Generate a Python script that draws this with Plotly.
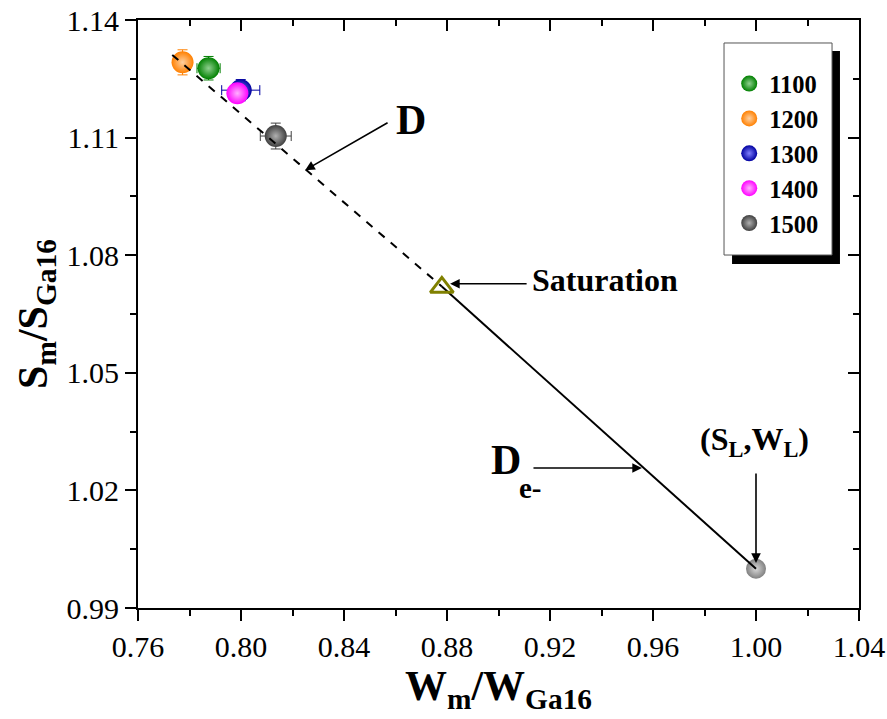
import plotly.graph_objects as go

# ---- data ----
series_names = ["1100", "1200", "1300", "1400", "1500"]
w_vals = [0.7874, 0.7773, 0.7999, 0.7986, 0.8135]
s_vals = [1.1277, 1.1292, 1.1221, 1.1213, 1.1104]
w_err = [0.0045, 0.0020, 0.0074, 0.0020, 0.0060]
s_err = [0.0030, 0.0032, 0.0027, 0.0020, 0.0033]
colors = ["#008000", "#ff8000", "#0000a0", "#ff00ff", "#404040"]
highlights = ["#8fd08f", "#ffd0a0", "#8080ff", "#ffb0ff", "#b0b0b0"]

# D line (dashed) and D_e- line (solid)
d_line_w = [0.7733, 0.878]
d_line_s = [1.1311, 1.072]
de_line_w = [0.878, 1.000]
de_line_s = [1.072, 1.000]

sat_w = [0.878]
sat_s = [1.0718]
sl_w = [1.000]
sl_s = [1.000]

x_range = [0.76, 1.04]
y_range = [0.99, 1.14]
x_ticks = [0.76, 0.80, 0.84, 0.88, 0.92, 0.96, 1.00, 1.04]
x_tick_labels = ["0.76", "0.80", "0.84", "0.88", "0.92", "0.96", "1.00", "1.04"]
y_ticks = [0.99, 1.02, 1.05, 1.08, 1.11, 1.14]
y_tick_labels = ["0.99", "1.02", "1.05", "1.08", "1.11", "1.14"]

FONT = "Liberation Serif"

fig = go.Figure()

for name, w, s, we, se, c, h in zip(series_names, w_vals, s_vals, w_err, s_err, colors, highlights):
    fig.add_trace(go.Scatter(
        x=[w], y=[s], mode="markers", name=name, legendgroup=name,
        marker=dict(size=22, color=c, line=dict(width=0),
                    gradient=dict(type="radial", color=h)),
        error_x=dict(type="data", array=[we], color=c, thickness=1, width=5),
        error_y=dict(type="data", array=[se], color=c, thickness=1, width=5),
    ))

# (S_L, W_L) point
fig.add_trace(go.Scatter(
    x=sl_w, y=sl_s, mode="markers", showlegend=False,
    marker=dict(size=20, color="#808080", line=dict(width=0),
                gradient=dict(type="radial", color="#d8d8d8")),
))

# lines
fig.add_trace(go.Scatter(x=d_line_w, y=d_line_s, mode="lines", showlegend=False,
                         line=dict(color="black", width=2, dash="8px,8px")))
fig.add_trace(go.Scatter(x=de_line_w, y=de_line_s, mode="lines", showlegend=False,
                         line=dict(color="black", width=2)))

# saturation triangle
fig.add_trace(go.Scatter(
    x=sat_w, y=sat_s, mode="markers", showlegend=False,
    marker=dict(symbol="triangle-up-open", size=20, color="#808000",
                line=dict(color="#808000", width=3)),
))

# dummy trace for mirror axes
fig.add_trace(go.Scatter(x=[x_range[0]], y=[y_range[0]], xaxis="x2", yaxis="y2",
                         mode="markers", marker=dict(opacity=0), showlegend=False,
                         hoverinfo="skip"))

axis_common = dict(showline=True, linecolor="black", linewidth=2, showgrid=False,
                   zeroline=False, tickcolor="black", tickwidth=2, ticklen=11,
                   automargin=False)

fig.update_layout(
    width=887, height=719,
    margin=dict(l=138, r=28, t=20, b=111, autoexpand=False),
    paper_bgcolor="white", plot_bgcolor="white",
    font=dict(family=FONT, color="black"),
    xaxis=dict(range=x_range, tickmode="array", tickvals=x_ticks, ticktext=x_tick_labels,
               ticks="outside", tickfont=dict(size=30, family=FONT),
               minor=dict(dtick=0.02, tick0=0.76, ticks="outside", ticklen=6, tickwidth=2,
                          tickcolor="black"),
               title=dict(text="W<sub>m</sub>/W<sub>Ga16</sub>",
                          font=dict(size=42, family=FONT, weight="bold"), standoff=0),
               **axis_common),
    yaxis=dict(range=y_range, tickmode="array", tickvals=y_ticks, ticktext=y_tick_labels,
               ticks="outside", tickfont=dict(size=30, family=FONT),
               minor=dict(dtick=0.015, tick0=0.99, ticks="outside", ticklen=6, tickwidth=2,
                          tickcolor="black"),
               title=dict(text="S<sub>m</sub>/S<sub>Ga16</sub>",
                          font=dict(size=42, family=FONT, weight="bold"), standoff=6),
               **axis_common),
    xaxis2=dict(range=x_range, overlaying="x", side="top", anchor="y",
                tickmode="array", tickvals=x_ticks,
                ticks="inside", showticklabels=False,
                minor=dict(dtick=0.02, tick0=0.76, ticks="inside", ticklen=6, tickwidth=2,
                           tickcolor="black"),
                **axis_common),
    yaxis2=dict(range=y_range, overlaying="y", side="right", anchor="x",
                tickmode="array", tickvals=y_ticks,
                ticks="inside", showticklabels=False,
                minor=dict(dtick=0.015, tick0=0.99, ticks="inside", ticklen=6, tickwidth=2,
                           tickcolor="black"),
                **axis_common),
    legend=dict(x=0.820, y=0.930, xanchor="left", yanchor="top",
                bgcolor="rgba(0,0,0,0)", borderwidth=0,
                font=dict(size=24.5, family=FONT, weight="bold"),
                traceorder="grouped", tracegroupgap=0, itemwidth=30),
    showlegend=True,
)

# legend box with shadow
fig.add_shape(type="rect", xref="paper", yref="paper", x0=0.8239, x1=0.9736, y0=0.585, y1=0.9473,
              fillcolor="black", line=dict(width=0), layer="above")
fig.add_shape(type="rect", xref="paper", yref="paper", x0=0.8128, x1=0.9626, y0=0.6003, y1=0.9609,
              fillcolor="white", line=dict(color="#555555", width=1), layer="above")

arrow = dict(showarrow=True, arrowhead=2, arrowsize=1.2, arrowwidth=1.6, arrowcolor="black",
             axref="x", ayref="y", xref="x", yref="y", text="")

# arrows (tip x,y ; tail ax,ay)
fig.add_annotation(x=0.8249, y=1.1017, ax=0.8575, ay=1.1140, **arrow)
fig.add_annotation(x=0.8812, y=1.0727, ax=0.9115, ay=1.0727, **arrow)
fig.add_annotation(x=0.9557, y=1.0257, ax=0.9130, ay=1.0257, **arrow)
fig.add_annotation(x=1.0000, y=1.0015, ax=1.0000, ay=1.0247, **arrow)

txt = dict(showarrow=False, xref="x", yref="y")
fig.add_annotation(x=0.866, y=1.1145, text="D", font=dict(size=42, family=FONT, weight="bold"), **txt)
fig.add_annotation(x=0.9123, y=1.0737, xanchor="left", text="Saturation",
                   font=dict(size=32, family=FONT, weight="bold"), **txt)
# D with subscript e- (subscript placed lower, as in the original)
fig.add_annotation(x=0.8962, y=1.0278, xanchor="left", text="D",
                   font=dict(size=42, family=FONT, weight="bold"), **txt)
fig.add_annotation(x=0.9070, y=1.0207, xanchor="left", text="e-",
                   font=dict(size=29, family=FONT, weight="bold"), **txt)
fig.add_annotation(x=0.9996, y=1.0325, text="(S<sub>L</sub>,W<sub>L</sub>)",
                   font=dict(size=32, family=FONT, weight="bold"), **txt)

fig.write_html("out.html", config={"displayModeBar": False},
               post_script="document.body.style.margin='0';document.body.style.overflow='hidden';")
